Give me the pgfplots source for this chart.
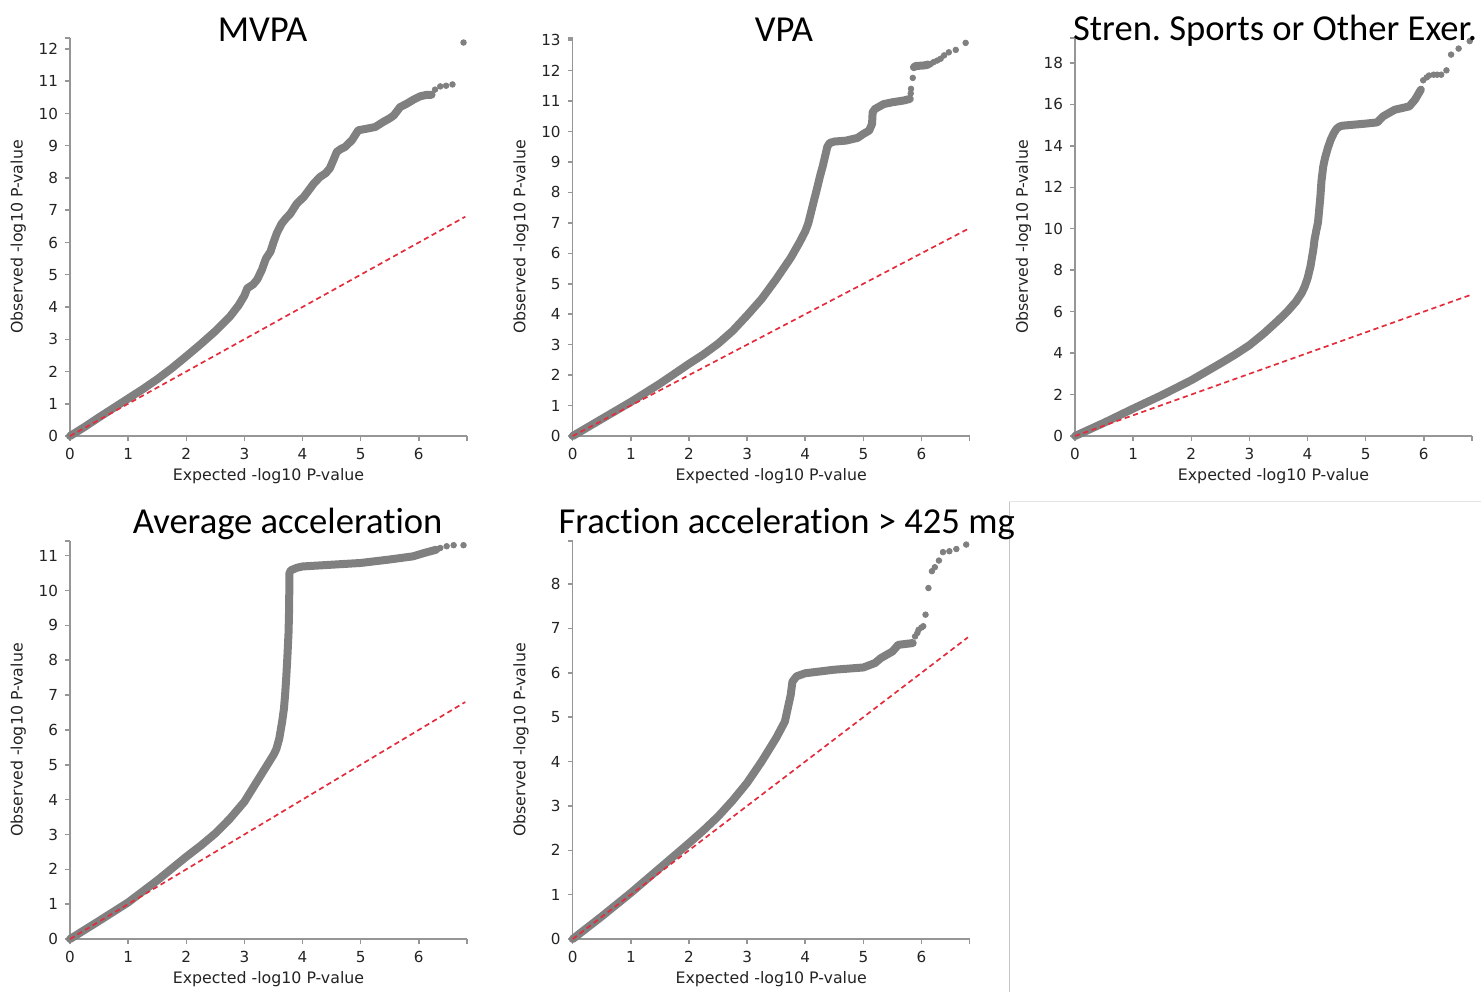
\documentclass[border=0pt]{standalone}
\usepackage{fontspec}
\setmainfont{DejaVu Sans}
\newfontfamily\titlefont[Ligatures=NoCommon]{Carlito}
\usepackage{pgfplots}
\pgfplotsset{compat=1.18}
\usepackage{pgfplotstable}
\definecolor{ptgray}{RGB}{128,128,128}
\definecolor{axgray}{RGB}{150,150,150}
\definecolor{qqred}{RGB}{228,45,60}
\definecolor{txt}{RGB}{35,35,35}

\pgfplotstableread{
x y
0 0
0.25 0.28
0.5 0.58
0.75 0.87
1.0 1.16
1.25 1.45
1.5 1.76
1.75 2.1
2.0 2.47
2.25 2.85
2.5 3.25
2.75 3.7
2.9 4.05
3.0 4.35
3.05 4.58
3.15 4.7
3.22 4.85
3.3 5.15
3.37 5.5
3.45 5.72
3.5 6.0
3.56 6.3
3.64 6.58
3.72 6.76
3.79 6.89
3.9 7.2
4.02 7.41
4.1 7.6
4.19 7.82
4.30 8.03
4.4 8.15
4.47 8.3
4.53 8.55
4.59 8.81
4.66 8.9
4.73 8.96
4.85 9.17
4.96 9.48
5.11 9.53
5.25 9.58
5.39 9.74
5.5 9.85
5.57 9.94
5.68 10.2
5.79 10.3
5.91 10.43
6.02 10.53
6.14 10.58
6.22 10.58
}\mvpaband
\pgfplotstableread{
x y
6.28 10.74
6.37 10.84
6.47 10.86
6.58 10.9
6.77 12.2
}\mvpapts

\pgfplotstableread{
x y
0 0
0.5 0.56
1 1.12
1.5 1.72
2 2.37
2.25 2.68
2.5 3.03
2.75 3.45
3 3.96
3.25 4.5
3.5 5.15
3.75 5.85
3.9 6.35
4.0 6.72
4.05 6.97
4.1 7.35
4.15 7.73
4.2 8.1
4.25 8.5
4.3 8.85
4.35 9.25
4.38 9.5
4.42 9.62
4.5 9.67
4.7 9.7
4.9 9.79
5.0 9.92
5.1 10.03
5.15 10.25
5.16 10.63
5.2 10.74
5.35 10.9
5.5 10.96
5.7 11.02
5.8 11.07
}\vpaband
\pgfplotstableread{
x y
5.87 12.11
5.9 12.15
6.05 12.17
6.12 12.2
}\vpabandb
\pgfplotstableread{
x y
5.815 11.25
5.82 11.4
5.85 11.76
6.16 12.22
6.21 12.28
6.27 12.33
6.33 12.39
6.39 12.5
6.47 12.6
6.59 12.68
6.76 12.91
}\vpapts

\pgfplotstableread{
x y
0 0
0.5 0.64
1 1.32
1.5 1.98
2 2.69
2.5 3.5
2.75 3.92
3 4.38
3.25 4.95
3.5 5.59
3.65 6.0
3.8 6.48
3.9 6.9
3.95 7.2
4.0 7.6
4.05 8.17
4.1 9.0
4.12 9.46
4.15 9.9
4.18 10.3
4.2 10.9
4.22 11.5
4.24 12.3
4.27 13.0
4.3 13.4
4.35 13.9
4.4 14.3
4.45 14.6
4.5 14.82
4.55 14.93
4.6 14.97
5.0 15.07
5.2 15.13
5.3 15.42
5.5 15.74
5.75 15.9
5.85 16.23
5.95 16.71
}\strenband
\pgfplotstableread{
x y
5.99 17.16
6.05 17.3
6.09 17.39
6.17 17.43
6.23 17.43
6.3 17.43
6.39 17.64
6.47 18.4
6.6 18.69
6.79 19.05
}\strenpts

\pgfplotstableread{
x y
0 0
0.5 0.52
1 1.05
1.5 1.68
2 2.36
2.25 2.68
2.5 3.03
2.75 3.45
3 3.94
3.25 4.61
3.5 5.28
3.55 5.45
3.6 5.75
3.65 6.24
3.68 6.6
3.7 7.0
3.72 7.5
3.74 8.1
3.76 8.8
3.77 9.5
3.775 10.5
3.8 10.58
3.9 10.65
4.0 10.69
4.5 10.74
5.0 10.79
5.5 10.89
5.9 10.98
6.1 11.08
6.3 11.17
}\avgband
\pgfplotstableread{
x y
6.37 11.22
6.48 11.27
6.6 11.3
6.77 11.3
}\avgpts

\pgfplotstableread{
x y
0 0
0.5 0.51
1 1.04
1.5 1.6
2 2.16
2.25 2.45
2.5 2.76
2.75 3.12
3 3.52
3.25 4.0
3.5 4.53
3.65 4.9
3.7 5.2
3.75 5.5
3.78 5.8
3.85 5.92
4.0 5.99
4.5 6.07
5.0 6.12
5.2 6.22
5.3 6.33
5.5 6.48
5.6 6.63
5.85 6.67
}\fracband
\pgfplotstableread{
x y
5.89 6.82
5.93 6.9
5.95 6.97
6.0 7.02
6.03 7.05
6.07 7.31
6.12 7.91
6.18 8.29
6.23 8.38
6.3 8.53
6.37 8.72
6.48 8.74
6.6 8.79
6.77 8.89
}\fracpts

\pgfplotsset{
  every axis title shift=0pt,
  qq/.style={
    scale only axis, width=198.5pt, height=199pt,
    axis x line*=bottom, axis y line*=left,
    axis line style={axgray, line width=0.75pt, -},
    xmin=0, xmax=6.83, ymin=0,
    xtick={0,...,6},
    extra x ticks={6.83}, extra x tick labels={},
    tick align=outside, major tick length=2.5pt,
    tick style={axgray, line width=0.75pt},
    /pgf/number format/assume math mode=true,
    tick label style={font=\fontsize{7.6}{9}\selectfont, text=txt},
    xlabel={Expected -log10 P-value},
    ylabel={Observed -log10 P-value},
    label style={font=\fontsize{7.9}{9}\selectfont, text=txt},
    xlabel style={at={(axis description cs:0.5,-0.102)}, anchor=center},
    ylabel style={at={(axis description cs:-0.13,0.5)}, anchor=center},
    title style={font=\titlefont\frenchspacing\fontsize{18.3}{21}\selectfont, anchor=base},
    clip=false,
  },
  band/.style={ptgray, line width=4pt, line cap=round, line join=round},
  pts/.style={only marks, mark=*, mark size=1.4pt, ptgray, mark options={draw=ptgray, fill=ptgray}},
  diag/.style={qqred, line width=0.85pt, dash pattern=on 2.6pt off 1.8pt},
}

\begin{document}
\begin{tikzpicture}
\useasboundingbox (0,0) rectangle (740.5pt,-496pt);
\draw[gray!45, line width=0.6pt] (504.65pt,-250.85pt) -- (504.65pt,-496pt);
\draw[gray!20, line width=0.6pt] (504.65pt,-250.85pt) -- (740.5pt,-250.85pt);

% MVPA
\begin{axis}[qq, at={(35pt,-218pt)}, anchor=south west,
  ymax=12.34, ytick={0,...,12}, extra y ticks={12.34}, extra y tick labels={},
  title={MVPA}, title style={at={(0.485,0.99)}}]
\addplot[band] table {\mvpaband};
\addplot[pts] table {\mvpapts};
\addplot[diag] coordinates {(0,0) (6.8,6.8)};
\end{axis}

% VPA
\begin{axis}[qq, at={(286.35pt,-218pt)}, anchor=south west,
  ymax=13.07, ytick={0,...,13}, extra y ticks={13.07}, extra y tick labels={},
  title={VPA}, title style={at={(0.532,0.99)}}]
\addplot[band] table {\vpaband};
\addplot[band] table {\vpabandb};
\addplot[pts] table {\vpapts};
\addplot[diag] coordinates {(0,0) (6.8,6.8)};
\end{axis}

% Stren
\begin{axis}[qq, at={(537.5pt,-218pt)}, anchor=south west,
  ymax=19.2, ytick={0,2,...,18}, extra y ticks={19.2}, extra y tick labels={},
  title={Stren. Sports or Other Exer.}, title style={at={(0.504,0.995)}}]
\addplot[band] table {\strenband};
\addplot[pts] table {\strenpts};
\addplot[diag] coordinates {(0,0) (6.8,6.8)};
\end{axis}

% Average acceleration
\begin{axis}[qq, at={(35pt,-469.5pt)}, anchor=south west,
  ymax=11.42, ytick={0,...,11}, extra y ticks={11.42}, extra y tick labels={},
  title={Average acceleration}, title style={at={(0.548,1.02)}}]
\addplot[band] table {\avgband};
\addplot[pts] table {\avgpts};
\addplot[diag] coordinates {(0,0) (6.8,6.8)};
\end{axis}

% Fraction acceleration
\begin{axis}[qq, at={(286.35pt,-469.5pt)}, anchor=south west,
  ymax=8.97, ytick={0,...,8}, extra y ticks={8.97}, extra y tick labels={},
  title={Fraction acceleration > 425 mg}, title style={at={(0.539,1.02)}}]
\addplot[band] table {\fracband};
\addplot[pts] table {\fracpts};
\addplot[diag] coordinates {(0,0) (6.8,6.8)};
\end{axis}
\end{tikzpicture}
\end{document}
